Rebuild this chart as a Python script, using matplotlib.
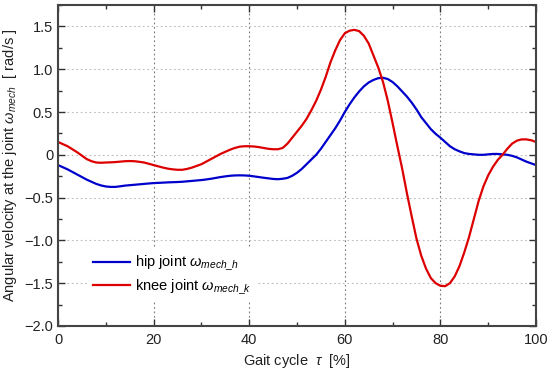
import matplotlib
matplotlib.use("Agg")
import matplotlib.pyplot as plt
from matplotlib.ticker import MultipleLocator, FuncFormatter

plt.rcParams['font.family'] = ['Liberation Sans', 'DejaVu Sans']
plt.rcParams['mathtext.fontset'] = 'custom'
plt.rcParams['mathtext.it'] = 'Liberation Sans:italic'
plt.rcParams['mathtext.rm'] = 'Liberation Sans'

# gait cycle positions [%], one reading per percent
gait = list(range(0, 101))

hip = [-0.12, -0.145, -0.17, -0.20, -0.23, -0.26, -0.29, -0.315, -0.34, -0.358,
       -0.37, -0.375, -0.375, -0.368, -0.36, -0.355, -0.35, -0.345, -0.34, -0.335,
       -0.33, -0.328, -0.325, -0.322, -0.32, -0.318, -0.315, -0.31, -0.305, -0.30,
       -0.295, -0.288, -0.28, -0.27, -0.26, -0.252, -0.245, -0.241, -0.24, -0.241,
       -0.245, -0.252, -0.26, -0.268, -0.275, -0.282, -0.285, -0.28, -0.27, -0.245,
       -0.21, -0.165, -0.11, -0.055, 0.00, 0.07, 0.15, 0.23, 0.31, 0.40,
       0.50, 0.59, 0.67, 0.74, 0.80, 0.845, 0.875, 0.895, 0.90, 0.885,
       0.85, 0.80, 0.74, 0.68, 0.61, 0.53, 0.44, 0.37, 0.30, 0.245,
       0.20, 0.15, 0.10, 0.065, 0.04, 0.02, 0.01, 0.005, 0.0, 0.0,
       0.005, 0.01, 0.01, 0.005, 0.0, -0.012, -0.03, -0.055, -0.08, -0.10,
       -0.12]

knee = [0.15, 0.125, 0.10, 0.065, 0.03, -0.01, -0.05, -0.075, -0.09, -0.093,
        -0.09, -0.088, -0.085, -0.08, -0.075, -0.073, -0.075, -0.082, -0.09, -0.105,
        -0.12, -0.135, -0.15, -0.162, -0.17, -0.175, -0.175, -0.165, -0.15, -0.13,
        -0.11, -0.08, -0.05, -0.02, 0.01, 0.035, 0.06, 0.08, 0.095, 0.10,
        0.10, 0.097, 0.09, 0.08, 0.07, 0.065, 0.065, 0.08, 0.13, 0.20,
        0.27, 0.34, 0.42, 0.52, 0.63, 0.76, 0.91, 1.08, 1.22, 1.34,
        1.42, 1.45, 1.46, 1.445, 1.39, 1.30, 1.16, 1.02, 0.85, 0.63,
        0.37, 0.10, -0.16, -0.45, -0.72, -0.98, -1.18, -1.33, -1.44, -1.50,
        -1.53, -1.535, -1.50, -1.42, -1.30, -1.14, -0.96, -0.75, -0.54, -0.37,
        -0.24, -0.14, -0.06, 0.00, 0.07, 0.13, 0.165, 0.18, 0.18, 0.17,
        0.15]

fig = plt.figure(figsize=(5.5, 3.77), dpi=100)
ax = fig.add_axes([0.1055, 0.1353, 0.869, 0.8514])

ax.plot(gait, hip, color='#0000CC', lw=1.6, label=r'hip joint $\omega_{mech\_h}$')
ax.plot(gait, knee, color='#DD0000', lw=1.6, label=r'knee joint $\omega_{mech\_k}$')

ax.set_xlim(0, 100)
ax.set_ylim(-2.0, 1.75)
ax.xaxis.set_major_locator(MultipleLocator(20))
ax.xaxis.set_minor_locator(MultipleLocator(10))
ax.yaxis.set_major_locator(MultipleLocator(0.5))
ax.yaxis.set_minor_locator(MultipleLocator(0.25))

def yfmt(v, pos):
    if abs(v) < 1e-9:
        return '0'
    return f'{v:.1f}'.replace('-', '\u2212')

ax.yaxis.set_major_formatter(FuncFormatter(yfmt))
ax.tick_params(which='both', direction='in', top=True, right=True, labelsize=10.5,
               color='#333333', labelcolor='#222222')
ax.tick_params(which='major', length=5, width=1)
ax.tick_params(which='minor', length=3, width=1)
ax.tick_params(axis='x', pad=5)

for s in ax.spines.values():
    s.set_color('#444444')
    s.set_linewidth(1.5)

ax.grid(True, which='major', axis='x', linestyle=(0, (1.5, 2.5)), color='#777777', lw=0.8)
ax.grid(True, which='major', axis='y', linestyle=(0, (1.5, 2.5)), color='#bbbbbb', lw=0.8)
ax.set_axisbelow(True)

ax.set_xlabel(r'Gait cycle  $\tau$  [%]', fontsize=10.5, color='#222222', labelpad=4)
ax.set_ylabel(r'Angular velocity at the joint $\omega_{mech}$  [ rad/s ]', fontsize=10.5,
              color='#222222', labelpad=4)

leg = ax.legend(loc='upper left', bbox_to_anchor=(0.046, 0.265), frameon=True,
                fontsize=10.5, handlelength=2.5, handletextpad=0.4, borderpad=0.4,
                labelspacing=0.3, fancybox=False)
leg.get_frame().set_facecolor('white')
leg.get_frame().set_edgecolor('none')
leg.get_frame().set_alpha(1.0)

fig.savefig('out.png', dpi=100)
